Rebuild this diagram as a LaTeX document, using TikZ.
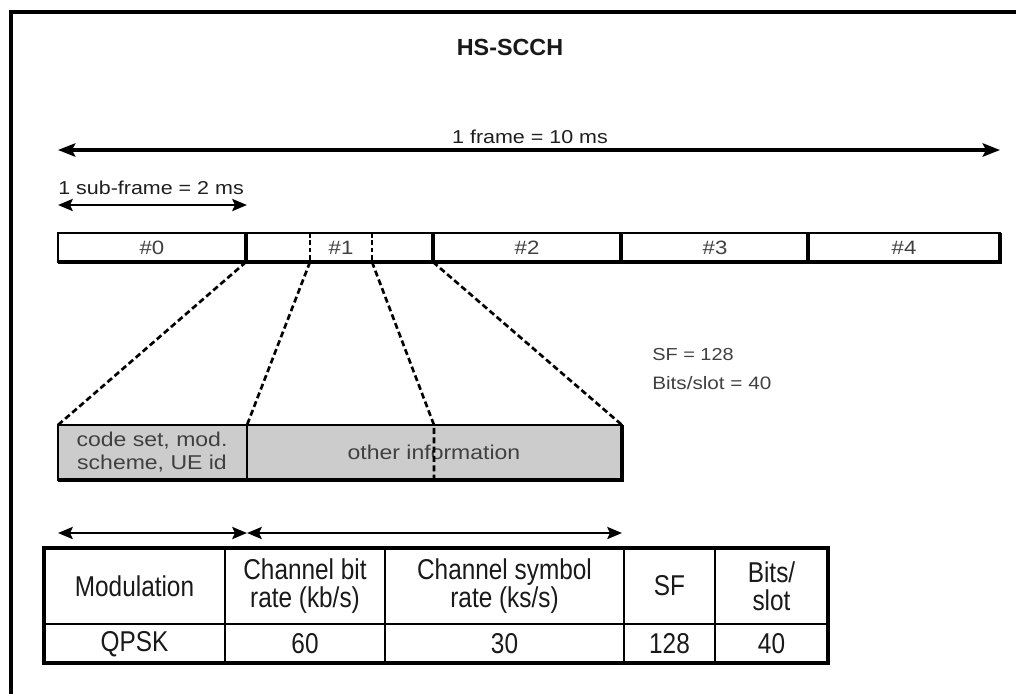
\documentclass[tikz,border=0pt]{standalone}
\usepackage{fontspec}
\setmainfont[FakeStretch=1.15]{Liberation Sans}
\newfontfamily\tabfont[FakeStretch=0.85]{Liberation Sans}
\newfontfamily\titlefont{Liberation Sans}
\usetikzlibrary{arrows.meta}
\begin{document}
\begin{tikzpicture}[x=0.75pt,y=-0.75pt,
  lbl/.style={font=\fontsize{14}{17}\selectfont, text=black!88, inner sep=0pt},
  slotlbl/.style={font=\fontsize{14.5}{17}\selectfont, text=black!75, inner sep=0pt},
  boxlbl/.style={font=\fontsize{15}{17.5}\selectfont, text=black!75, inner sep=0pt, align=center},
  tab/.style={font=\tabfont\fontsize{21.5}{21}\selectfont, text=black!90, inner sep=0pt, align=center},
  tip/.tip={Stealth[length=11pt,width=9pt,inset=2pt]},
  dbl/.style={line width=2pt, tip-tip},
  fan/.style={line width=2pt, dash pattern=on 4.5pt off 2.5pt},
  thinline/.style={line width=1.5pt}]
\useasboundingbox (0,0) rectangle (1016,693);
% outer border
\draw[line width=2.4pt] (11,700) -- (11,12) -- (1020,12);
% title
\node[font=\titlefont\bfseries\fontsize{17.5}{20}\selectfont, text=black!90, inner sep=0pt] (title) at (510,47) {HS-SCCH};
% frame arrow
\coordinate (fl) at (58,150); \coordinate (fr) at (1000,150);
\draw[dbl, line width=2.4pt, {Stealth[length=13pt,width=10pt,inset=2.5pt]}-{Stealth[length=13pt,width=10pt,inset=2.5pt]}] (fl) -- (fr);
\node[lbl] (flbl) at (530,137) {1 frame = 10 ms};
% sub-frame arrow
\coordinate (sl) at (58,205); \coordinate (sr) at (247,205);
\draw[dbl] (sl) -- (sr);
\node[lbl, anchor=west] (slbl) at (58,188) {1 sub-frame = 2 ms};
% frame bar
\coordinate (b0t) at (58,233); \coordinate (b1t) at (246,233); \coordinate (b2t) at (433,233);
\coordinate (b3t) at (621,233); \coordinate (b4t) at (808,233); \coordinate (b5t) at (1000,233);
\coordinate (b0b) at (58,262); \coordinate (b1b) at (246,262); \coordinate (b2b) at (433,262);
\coordinate (b3b) at (621,262); \coordinate (b4b) at (808,262); \coordinate (b5b) at (1000,262);
\coordinate (d1t) at (310,233); \coordinate (d1b) at (310,262);
\coordinate (d2t) at (372,233); \coordinate (d2b) at (372,262);
\draw[thinline] (b0t) rectangle (b5b);
\draw[line width=3.2pt] (b0b) -- (b5b) -- (b5t);
\foreach \c in {1,2,3,4} \draw[line width=2.6pt] (b\c t) -- (b\c b);
\draw[fan, line width=1.4pt, dash pattern=on 3.5pt off 2pt] (d1t) -- (d1b);
\draw[fan, line width=1.4pt, dash pattern=on 3.5pt off 2pt] (d2t) -- (d2b);
\node[slotlbl] (n0) at (152,247.5) {\#0};
\node[slotlbl] (n1) at (341,247.5) {\#1};
\node[slotlbl] (n2) at (527,247.5) {\#2};
\node[slotlbl] (n3) at (715,247.5) {\#3};
\node[slotlbl] (n4) at (904,247.5) {\#4};
% SF text
\node[lbl, text=black!75, anchor=west, font=\fontsize{13}{17}\selectfont] (sf) at (652,355) {SF = 128};
\node[lbl, text=black!75, anchor=west, font=\fontsize{13.5}{17}\selectfont] (bps) at (652,383) {Bits/slot = 40};
% gray box
\coordinate (g0t) at (58,425); \coordinate (g1t) at (247,425); \coordinate (gdt) at (434,425); \coordinate (g2t) at (622,425);
\coordinate (g0b) at (58,480); \coordinate (g1b) at (247,480); \coordinate (gdb) at (434,480); \coordinate (g2b) at (622,480);
\fill[gray!40] (g0t) rectangle (g2b);
\draw[line width=1.3pt] (g0t) rectangle (g2b);
\draw[line width=2.8pt] (g0b) -- (g2b) -- (g2t);
\draw[line width=1.8pt] (g1t) -- (g1b);
\node[boxlbl] (gl) at (152,452) {code set, mod.\\scheme, UE id};
\node[boxlbl] (gr) at (434,452) {other information};
% fan lines
\draw[fan] (b1b) -- (g0t);
\draw[fan] (d1b) -- (g1t);
\draw[fan] (d2b) -- (gdt) -- (gdb);
\draw[fan] (b2b) -- (g2t);
% lower arrows
\coordinate (a0) at (58,533); \coordinate (a1) at (247,533); \coordinate (a2) at (622,533);
\draw[dbl] (a0) -- (a1);
\draw[dbl] (a1) -- (a2);
% table
\draw[line width=2.4pt] (44,548) rectangle (828,663);
\draw[line width=3.2pt] (44,663) -- (828,663) -- (828,548);
\draw[line width=1.5pt] (44,624) -- (828,624);
\foreach \x in {225,385,624,715} \draw[line width=1.5pt] (\x,548) -- (\x,663);
\node[tab] (h1) at (134.5,586) {Modulation};
\node[tab] (h2) at (305,586) {Channel bit\\rate (kb/s)};
\node[tab] (h3) at (504.5,586) {Channel symbol\\rate (ks/s)};
\node[tab] (h4) at (669.5,586) {SF};
\node[tab] (h5) at (771.5,586) {Bits/\\slot};
\node[tab] (r1) at (134.5,644) {QPSK};
\node[tab] (r2) at (305,644) {60};
\node[tab] (r3) at (504.5,644) {30};
\node[tab] (r4) at (669.5,644) {128};
\node[tab] (r5) at (771.5,644) {40};
\end{tikzpicture}
\end{document}
